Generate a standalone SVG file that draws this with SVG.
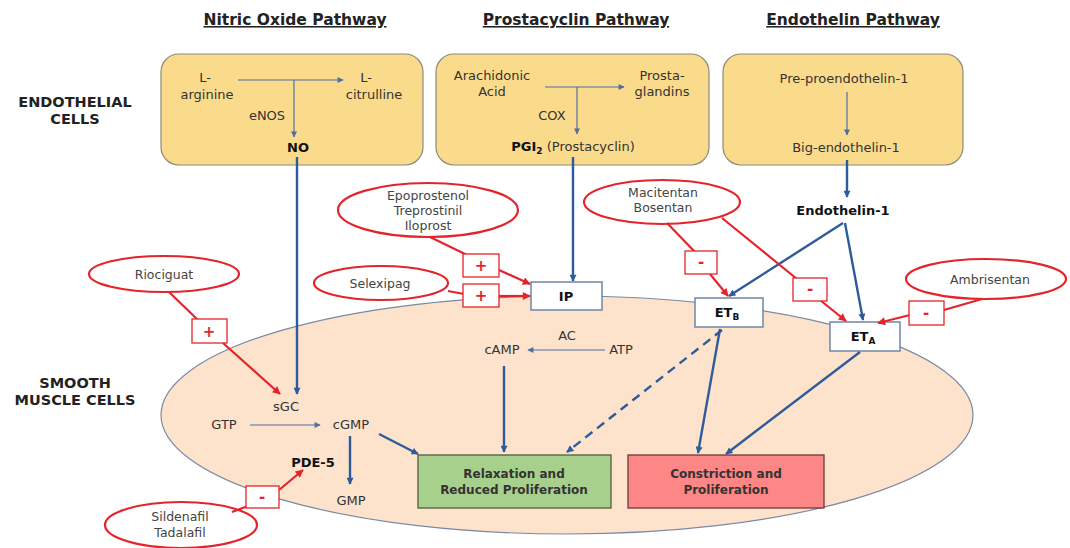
<svg xmlns="http://www.w3.org/2000/svg" width="1070" height="548" viewBox="0 0 1070 548">
  <style>
    text { font-family: "DejaVu Sans", "Liberation Sans", sans-serif; fill: #333; }
    .title { font-size: 15.5px; font-weight: bold; text-decoration: underline; text-anchor: middle; fill: #222; }
    .side { font-size: 14.5px; font-weight: bold; text-anchor: middle; fill: #222; }
    .t { font-size: 13px; text-anchor: middle; }
    .b { font-weight: bold; fill: #111; }
    .drug { font-size: 12.5px; text-anchor: middle; fill: #444; }
    .sign { font-size: 15px; font-weight: bold; text-anchor: middle; fill: #e3242b; }
    .out { font-size: 12px; font-weight: bold; text-anchor: middle; }
    .cell { fill: #fadb8c; stroke: #8c8a7a; stroke-width: 1.2; }
    .rec { fill: #ffffff; stroke: #6f86a6; stroke-width: 1.5; }
    .dr { fill: #ffffff; stroke: #e3242b; stroke-width: 2.2; }
    .sb { fill: #ffffff; stroke: #e3242b; stroke-width: 1.3; }
    .thin { stroke: #4f6fa0; stroke-width: 1.2; fill: none; }
    .thick { stroke: #2e5c9a; stroke-width: 2.4; fill: none; }
    .red { stroke: #e3242b; stroke-width: 2.2; fill: none; }
  </style>
  <defs>
    <marker id="ah-thin" viewBox="0 0 10 10" refX="9" refY="5" markerUnits="userSpaceOnUse" markerWidth="7" markerHeight="6" orient="auto">
      <path d="M0,0 L10,5 L0,10 z" fill="#4f6fa0"/>
    </marker>
    <marker id="ah-blue" viewBox="0 0 10 10" refX="9" refY="5" markerUnits="userSpaceOnUse" markerWidth="8" markerHeight="7" orient="auto">
      <path d="M0,0 L10,5 L0,10 z" fill="#2e5c9a"/>
    </marker>
    <marker id="ah-red" viewBox="0 0 10 10" refX="9" refY="5" markerUnits="userSpaceOnUse" markerWidth="9" markerHeight="8" orient="auto">
      <path d="M0,0 L10,5 L0,10 z" fill="#e3242b"/>
    </marker>
  </defs>

  <rect width="1070" height="548" fill="#ffffff"/>

  <!-- column headings -->
  <text class="title" x="295" y="25">Nitric Oxide Pathway</text>
  <text class="title" x="576" y="25">Prostacyclin Pathway</text>
  <text class="title" x="853" y="25">Endothelin Pathway</text>

  <!-- row labels -->
  <text class="side" x="75" y="107">ENDOTHELIAL</text>
  <text class="side" x="75" y="124">CELLS</text>
  <text class="side" x="75" y="388">SMOOTH</text>
  <text class="side" x="75" y="405">MUSCLE CELLS</text>

  <!-- smooth muscle cell body -->
  <g id="smooth-muscle-cell">
    <ellipse cx="567" cy="415" rx="406" ry="119" fill="#fde2cc" stroke="#7b8aa3" stroke-width="1.2"/>
  </g>

  <!-- endothelial compartments -->
  <g id="no-pathway">
    <rect class="cell" x="161" y="54" width="262" height="111" rx="18"/>
    <text class="t" x="205" y="82">L-</text>
    <text class="t" x="207" y="99">arginine</text>
    <text class="t" x="366" y="82">L-</text>
    <text class="t" x="374" y="99">citrulline</text>
    <text class="t" x="267" y="120">eNOS</text>
    <text class="t b" x="298" y="152">NO</text>
  </g>
  <g id="prostacyclin-pathway">
    <rect class="cell" x="436" y="54" width="273" height="111" rx="18"/>
    <text class="t" x="492" y="80">Arachidonic</text>
    <text class="t" x="492" y="96">Acid</text>
    <text class="t" x="662" y="80">Prosta-</text>
    <text class="t" x="662" y="96">glandins</text>
    <text class="t" x="552" y="120">COX</text>
    <text class="t" x="573" y="151"><tspan class="b">PGI<tspan font-size="9" dy="3">2</tspan></tspan><tspan dy="-3"> (Prostacyclin)</tspan></text>
  </g>
  <g id="endothelin-pathway">
    <rect class="cell" x="723" y="54" width="240" height="111" rx="18"/>
    <text class="t" x="844" y="83">Pre-proendothelin-1</text>
    <text class="t" x="846" y="152">Big-endothelin-1</text>
  </g>
  <g id="endothelin-1">
    <text class="t b" x="843" y="215">Endothelin-1</text>
  </g>

  <!-- receptors -->
  <g id="ip">
    <rect class="rec" x="531" y="282" width="71" height="28"/>
    <text class="t b" x="566" y="301">IP</text>
  </g>
  <g id="etb">
    <rect class="rec" x="695" y="298" width="68" height="29"/>
    <text class="t b" x="727" y="317">ET<tspan font-size="9" dy="3">B</tspan></text>
  </g>
  <g id="eta">
    <rect class="rec" x="830" y="322" width="70" height="29"/>
    <text class="t b" x="863" y="341">ET<tspan font-size="9" dy="3">A</tspan></text>
  </g>

  <!-- second messengers -->
  <g id="sgc"><text class="t" x="286" y="411">sGC</text></g>
  <g id="gtp"><text class="t" x="224" y="429">GTP</text></g>
  <g id="cgmp"><text class="t" x="351" y="429">cGMP</text></g>
  <g id="pde5"><text class="t b" x="313" y="467">PDE-5</text></g>
  <g id="gmp"><text class="t" x="351" y="505">GMP</text></g>
  <g id="camp"><text class="t" x="502" y="354">cAMP</text></g>
  <g id="ac"><text class="t" x="567" y="340">AC</text></g>
  <g id="atp"><text class="t" x="621" y="354">ATP</text></g>

  <!-- cellular outcomes -->
  <g id="relaxation">
    <rect x="418" y="455" width="193" height="53" fill="#a8d08d" stroke="#4f5f3c" stroke-width="1.3"/>
    <text class="out" x="514" y="478" fill="#1f3514">Relaxation and</text>
    <text class="out" x="514" y="494" fill="#1f3514">Reduced Proliferation</text>
  </g>
  <g id="constriction">
    <rect x="628" y="455" width="196" height="53" fill="#fd8686" stroke="#6e3a3a" stroke-width="1.3"/>
    <text class="out" x="726" y="478" fill="#5c0c0c">Constriction and</text>
    <text class="out" x="726" y="494" fill="#5c0c0c">Proliferation</text>
  </g>

  <!-- drugs -->
  <g id="epoprostenol">
    <ellipse class="dr" cx="428" cy="210" rx="90" ry="27"/>
    <text class="drug" x="428" y="200">Epoprostenol</text>
    <text class="drug" x="428" y="215">Treprostinil</text>
    <text class="drug" x="428" y="230">Iloprost</text>
  </g>
  <g id="selexipag">
    <ellipse class="dr" cx="381" cy="283" rx="67" ry="17"/>
    <text class="drug" x="380" y="288">Selexipag</text>
  </g>
  <g id="riociguat">
    <ellipse class="dr" cx="164" cy="274" rx="75" ry="18"/>
    <text class="drug" x="164" y="279">Riociguat</text>
  </g>
  <g id="macitentan-bosentan">
    <ellipse class="dr" cx="662" cy="202" rx="78" ry="22"/>
    <text class="drug" x="663" y="197">Macitentan</text>
    <text class="drug" x="663" y="212">Bosentan</text>
  </g>
  <g id="ambrisentan">
    <ellipse class="dr" cx="986" cy="279" rx="80" ry="20"/>
    <text class="drug" x="990" y="284">Ambrisentan</text>
  </g>
  <g id="sildenafil-tadalafil">
    <ellipse class="dr" cx="181" cy="525" rx="76" ry="23"/>
    <text class="drug" x="180" y="521">Sildenafil</text>
    <text class="drug" x="180" y="537">Tadalafil</text>
  </g>

  <!-- connectors -->
  <g id="connectors">
    <!-- enzymatic steps inside the endothelium -->
    <path class="thin" d="M238 80 H343" marker-end="url(#ah-thin)"/>
    <path class="thin" d="M294 80 V137" marker-end="url(#ah-thin)"/>
    <path class="thin" d="M545 87 H624" marker-end="url(#ah-thin)"/>
    <path class="thin" d="M577 87 V134" marker-end="url(#ah-thin)"/>
    <path class="thin" d="M847 92 V135" marker-end="url(#ah-thin)"/>
    <path class="thin" d="M250 425 H320" marker-end="url(#ah-thin)"/>
    <path class="thin" d="M605 350 H528" marker-end="url(#ah-thin)"/>

    <!-- signalling -->
    <path class="thick" d="M297 157 V394" marker-end="url(#ah-blue)"/>
    <path class="thick" d="M573 157 V281" marker-end="url(#ah-blue)"/>
    <path class="thick" d="M847 160 V197" marker-end="url(#ah-blue)"/>
    <path class="thick" d="M843 223 L729 296" marker-end="url(#ah-blue)"/>
    <path class="thick" d="M845 223 L863 320" marker-end="url(#ah-blue)"/>
    <path class="thick" d="M350 436 V484" marker-end="url(#ah-blue)"/>
    <path class="thick" d="M379 434 L418 454" marker-end="url(#ah-blue)"/>
    <path class="thick" d="M504 366 V452" marker-end="url(#ah-blue)"/>
    <path class="thick" d="M720 329 L698 453" marker-end="url(#ah-blue)"/>
    <path class="thick" d="M860 352 L726 454" marker-end="url(#ah-blue)"/>
    <path class="thick" d="M722 330 L567 452" stroke-dasharray="9 6" marker-end="url(#ah-blue)"/>

    <!-- drug actions -->
    <path class="red" d="M430 237 L467 255"/>
    <path class="red" d="M499 270 L530 284" marker-end="url(#ah-red)"/>
    <path class="red" d="M448 291 L464 294"/>
    <path class="red" d="M499 296 H530" marker-end="url(#ah-red)"/>
    <path class="red" d="M169 292 L199 321"/>
    <path class="red" d="M223 343 L280 394" marker-end="url(#ah-red)"/>
    <path class="red" d="M667 223 L695 252"/>
    <path class="red" d="M710 274 L728 296" marker-end="url(#ah-red)"/>
    <path class="red" d="M722 218 L797 279"/>
    <path class="red" d="M820 300 L846 321" marker-end="url(#ah-red)"/>
    <path class="red" d="M982 299 L944 310"/>
    <path class="red" d="M910 315 L878 323" marker-end="url(#ah-red)"/>
    <path class="red" d="M232 512 L248 506"/>
    <path class="red" d="M279 490 L303 470" marker-end="url(#ah-red)"/>
  </g>

  <!-- activation / inhibition badges -->
  <g id="badges">
    <rect class="sb" x="463" y="254" width="36" height="23"/>
    <text class="sign" x="481" y="271">+</text>
    <rect class="sb" x="463" y="284" width="36" height="23"/>
    <text class="sign" x="481" y="301">+</text>
    <rect class="sb" x="192" y="319" width="35" height="24"/>
    <text class="sign" x="209" y="337">+</text>
    <rect class="sb" x="685" y="251" width="32" height="23"/>
    <text class="sign" x="701" y="267">-</text>
    <rect class="sb" x="793" y="278" width="34" height="23"/>
    <text class="sign" x="810" y="294">-</text>
    <rect class="sb" x="909" y="301" width="35" height="24"/>
    <text class="sign" x="926" y="318">-</text>
    <rect class="sb" x="246" y="486" width="33" height="22"/>
    <text class="sign" x="262" y="502">-</text>
  </g>
</svg>
